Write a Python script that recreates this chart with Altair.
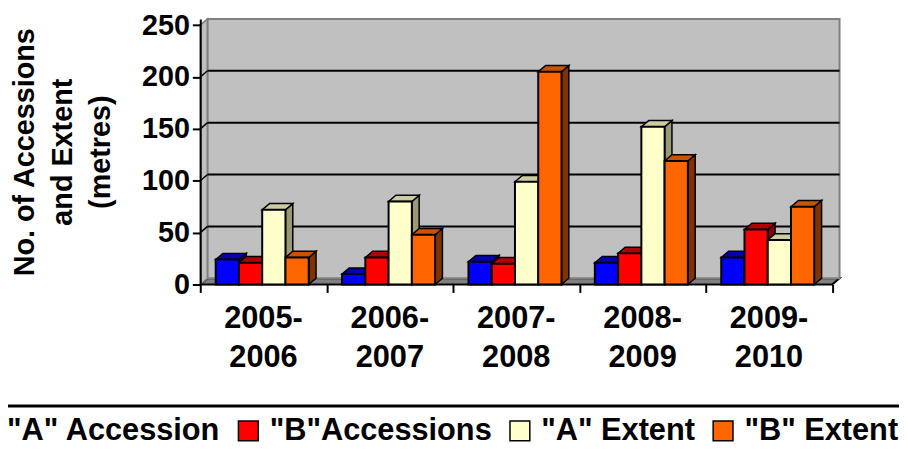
import altair as alt
import pandas as pd

# ---- data ----
periods = ["2005-2006", "2006-2007", "2007-2008", "2008-2009", "2009-2010"]
series = ['"A" Accession', '"B"Accessions', '"A" Extent', '"B" Extent']
a_accession = [24, 10, 22, 21, 26]
b_accessions = [21, 26, 20, 30, 53]
a_extent = [72, 80, 99, 152, 43]
b_extent = [26, 48, 205, 119, 75]
y_ticks = [0, 50, 100, 150, 200, 250]

front_colors = ["#0000FF", "#FF0000", "#FFFFCC", "#FF6600"]
top_colors = ["#0000B3", "#B30000", "#CCCCA3", "#CC5200"]
side_colors = ["#000080", "#800000", "#999978", "#803300"]

FONT = "Liberation Sans"
W, H = 645, 268
DX, DY = 0.058, 6.0      # 3-D depth in data units
BW = 0.184               # bar width in category units
YMAX = 250

values = [a_accession, b_accessions, a_extent, b_extent]

# ---- tables built from the arrays ----
fronts, sides, tops = [], [], []
for k, s in enumerate(series):
    for i, p in enumerate(periods):
        v = values[k][i]
        x0 = i - 0.01 + (k - 2) * BW
        x1 = x0 + BW
        bid = f"{k}_{i}"
        fronts.append({"x": x0, "x2": x1, "y": v, "y2": 0, "series": s})
        sides.append({"bid": bid, "series": s, "x": x1, "y": 0, "y2": v})
        sides.append({"bid": bid, "series": s, "x": x1 + DX, "y": DY, "y2": v + DY})
        tops.append({"bid": bid, "series": s, "y": v, "x": x0, "x2": x1})
        tops.append({"bid": bid, "series": s, "y": v + DY, "x": x0 + DX, "x2": x1 + DX})
fronts = pd.DataFrame(fronts)
sides = pd.DataFrame(sides)
tops = pd.DataFrame(tops)

xlo, xhi = -0.5, len(periods) - 0.5
xscale = alt.Scale(domain=[xlo, xhi + DX], nice=False, zero=False)
yscale = alt.Scale(domain=[0, YMAX + DY], nice=False, zero=False)

YAX = alt.Axis(
    values=y_ticks, grid=False, domainColor="black", domainWidth=2,
    tickColor="black", tickWidth=2, tickSize=8, labelPadding=3,
    labelFont=FONT, labelFontSize=29, labelFontWeight="bold", labelColor="black",
    title=["No. of Accessions", "and Extent", "(metres)"],
    titleFont=FONT, titleFontSize=29, titleFontWeight="bold", titleColor="black",
    titleLineHeight=38, titleAngle=270, titleAlign="center", titleBaseline="middle",
    titleX=-177, titleY=134, zindex=1)
XAX = alt.Axis(
    values=[xlo + j for j in range(len(periods) + 1)], labels=False, domain=False,
    ticks=True, tickSize=8, tickWidth=2, tickColor="black", grid=False, title=None,
    zindex=1)


def X(f):
    return alt.X(f, scale=xscale, axis=XAX)


def Y(f):
    return alt.Y(f, scale=yscale, axis=YAX)


floor_df = pd.DataFrame([{"y": 0, "x": xlo, "x2": xhi},
                         {"y": DY, "x": xlo + DX, "x2": xhi + DX}])
floor = alt.Chart(floor_df).mark_area(
    orient="horizontal", fill="#808080", stroke="black", strokeWidth=2
).encode(y=Y("y:Q"), x=X("x:Q"), x2="x2:Q")

lwall_df = pd.DataFrame([{"x": xlo, "y": 0, "y2": YMAX},
                         {"x": xlo + DX, "y": DY, "y2": YMAX + DY}])
left_wall = alt.Chart(lwall_df).mark_area(
    fill="#C0C0C0", stroke="#808080", strokeWidth=1.5
).encode(x=X("x:Q"), y=Y("y:Q"), y2="y2:Q")

wall_df = pd.DataFrame([{"x": xlo + DX, "x2": xhi + DX, "y": DY, "y2": YMAX + DY}])
back_wall = alt.Chart(wall_df).mark_rect(
    fill="#C0C0C0", stroke="#808080", strokeWidth=2
).encode(x=X("x:Q"), x2="x2:Q", y=Y("y:Q"), y2="y2:Q")

grid_df = pd.DataFrame({"y": [t + DY for t in y_ticks[1:-1]],
                        "y0": y_ticks[1:-1],
                        "x": [xlo + DX] * 4, "x2": [xhi + DX] * 4,
                        "xl": [xlo] * 4})
grid = alt.Chart(grid_df).mark_rule(color="black", strokeWidth=2).encode(
    y=Y("y:Q"), x=X("x:Q"), x2="x2:Q")
grid_left = alt.Chart(grid_df).mark_rule(color="black", strokeWidth=1.5).encode(
    y=Y("y0:Q"), y2="y:Q", x=X("xl:Q"), x2="x:Q")

side_layer = alt.Chart(sides).mark_area(stroke="black", strokeWidth=1.5).encode(
    x=X("x:Q"), y=Y("y:Q"), y2="y2:Q",
    detail="bid:N",
    color=alt.Color("series:N", scale=alt.Scale(domain=series, range=side_colors), legend=None),
)
top_layer = alt.Chart(tops).mark_area(orient="horizontal", stroke="black", strokeWidth=1.5).encode(
    y=Y("y:Q"), x=X("x:Q"), x2="x2:Q",
    detail="bid:N",
    color=alt.Color("series:N", scale=alt.Scale(domain=series, range=top_colors), legend=None),
)
front_layer = alt.Chart(fronts).mark_rect(stroke="black", strokeWidth=2).encode(
    x=X("x:Q"), x2="x2:Q",
    y=Y("y:Q"), y2="y2:Q",
    color=alt.Color("series:N", scale=alt.Scale(domain=series, range=front_colors),
                    legend=alt.Legend(
                        orient="none", legendX=-232, legendY=400, direction="horizontal",
                        title=None, padding=0, symbolType="square", symbolSize=400,
                        symbolStrokeColor="black", symbolStrokeWidth=1.5,
                        symbolOpacity=1, labelFont=FONT, labelFontSize=31,
                        labelFontWeight="bold", labelColor="black", labelOffset=6,
                        columnPadding=12, labelLimit=0)),
)

labels_df = pd.DataFrame({"x": list(range(len(periods))),
                          "label": [p.replace("-", "-\n") for p in periods]})
xlabels = alt.Chart(labels_df).mark_text(
    font=FONT, fontSize=31, fontWeight="bold", color="black", lineBreak="\n",
    lineHeight=39, baseline="top", align="center"
).encode(x=X("x:Q"), y=alt.value(H + 20), text="label:N")

line = alt.Chart(pd.DataFrame({"a": [0]})).mark_rule(color="black", strokeWidth=3).encode(
    x=alt.value(-215), x2=alt.value(720), y=alt.value(390.5))

chart = alt.layer(
    floor, left_wall, back_wall, grid, grid_left, side_layer, top_layer, front_layer,
    xlabels, line
).resolve_scale(color="independent").properties(
    width=W, height=H,
    autosize=alt.AutoSizeParams(type="none"),
    padding={"left": 194, "top": 9, "right": 60, "bottom": 165},
).configure_view(stroke=None)

chart.save("out.html", embed_options={"renderer": "svg", "actions": False})
